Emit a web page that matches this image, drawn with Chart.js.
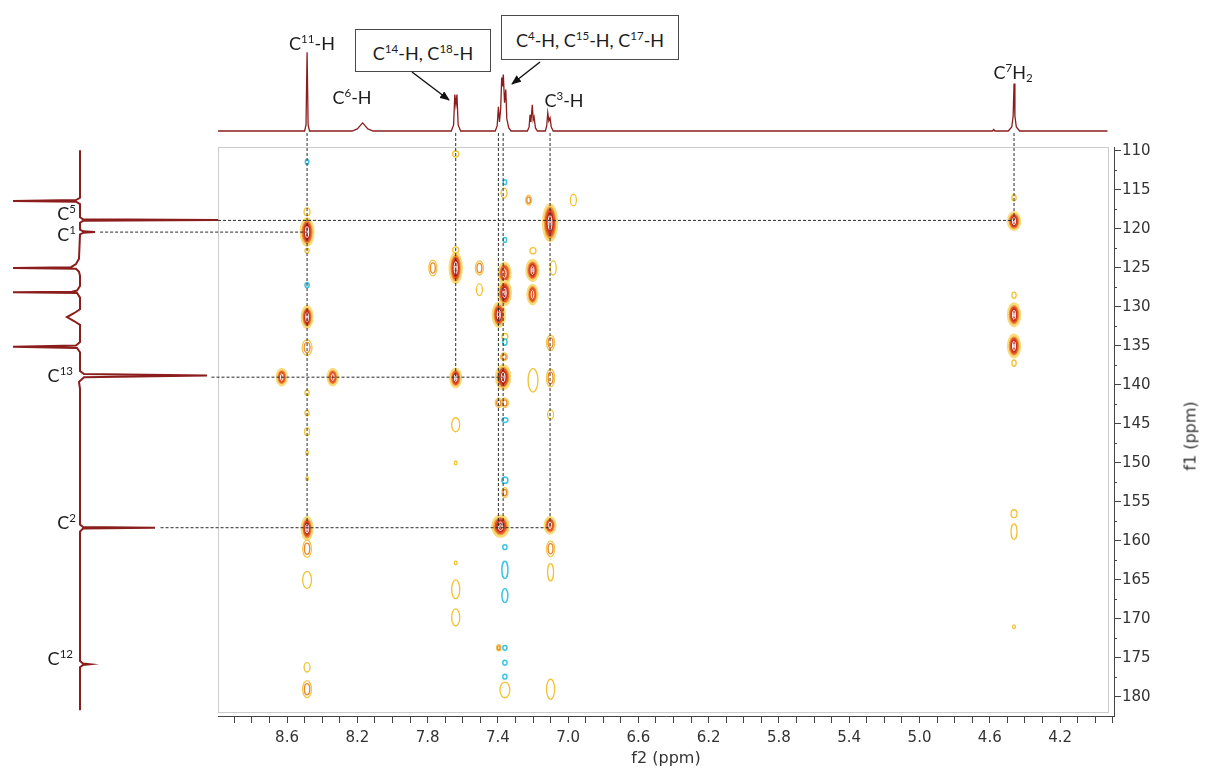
<!DOCTYPE html>
<html><head><meta charset="utf-8">
<script src="https://cdn.jsdelivr.net/npm/chart.js@4.4.1/dist/chart.umd.min.js"></script>
<style>
body{margin:0;background:#fff;width:1206px;height:769px;overflow:hidden;position:relative;}
canvas{position:absolute;left:0;top:0;}
.lbl{position:absolute;font-family:Lato,"Open Sans",sans-serif;font-size:18px;color:#1c1c1c;white-space:nowrap;transform:translate(-50%,-50%);line-height:1;}
.lft{position:absolute;font-family:Lato,"Open Sans",sans-serif;font-size:18px;color:#1c1c1c;white-space:nowrap;transform:translate(-100%,-50%);line-height:1;}
.box{position:absolute;border:1px solid #4a4a4a;background:#fff;display:flex;align-items:center;justify-content:center;font-family:Lato,"Open Sans",sans-serif;font-size:18px;color:#1c1c1c;white-space:nowrap;box-sizing:border-box;}
.box span.t{display:inline-block;line-height:1;padding-top:4px;}
sup{font-size:0.64em;vertical-align:0.62em;line-height:0;}
sub{font-size:0.64em;vertical-align:-0.25em;line-height:0;}
#f1{position:absolute;left:1190px;top:436px;transform:translate(-50%,-50%) rotate(-90deg);font-family:"DejaVu Sans",sans-serif;font-size:16px;color:#333;white-space:nowrap;}
svg{position:absolute;left:0;top:0;}
</style>
</head><body>
<canvas id="top" width="1206" height="147"></canvas>
<canvas id="left" width="220" height="769"></canvas>
<canvas id="main" width="1206" height="769"></canvas>

<div class="lbl" style="left:312px;top:43px">C<sup>11</sup>-H</div>
<div class="lbl" style="left:352px;top:97px">C<sup>6</sup>-H</div>
<div class="box" style="left:355px;top:29px;width:136px;height:43px"><span class="t">C<sup>14</sup>-H, C<sup>18</sup>-H</span></div>
<div class="box" style="left:501px;top:15px;width:178px;height:45px"><span class="t">C<sup>4</sup>-H, C<sup>15</sup>-H, C<sup>17</sup>-H</span></div>
<div class="lbl" style="left:564px;top:100px">C<sup>3</sup>-H</div>
<div class="lbl" style="left:1013px;top:72px">C<sup>7</sup>H<sub>2</sub></div>
<div class="lft" style="left:76px;top:213px">C<sup>5</sup></div>
<div class="lft" style="left:76px;top:234px">C<sup>1</sup></div>
<div class="lft" style="left:73px;top:375px">C<sup>13</sup></div>
<div class="lft" style="left:76px;top:522px">C<sup>2</sup></div>
<div class="lft" style="left:73px;top:658px">C<sup>12</sup></div>
<div id="f1">f1 (ppm)</div>
<svg width="1206" height="147">
<defs><marker id="ah" markerWidth="10" markerHeight="8" refX="9" refY="4" orient="auto" markerUnits="userSpaceOnUse"><polygon points="0,0 10,4 0,8" fill="#111"/></marker></defs>
<line x1="412" y1="72" x2="449" y2="100" stroke="#111" stroke-width="1.4" marker-end="url(#ah)"/>
<line x1="540" y1="62" x2="512" y2="84" stroke="#111" stroke-width="1.4" marker-end="url(#ah)"/>
</svg>

<script>
// ---- axis tick labels ----
const xTickLabels = ['8.6','8.2','7.8','7.4','7.0','6.6','6.2','5.8','5.4','5.0','4.6','4.2'];
const yTickLabels = ['110','115','120','125','130','135','140','145','150','155','160','165','170','175','180'];

// ---- 2D cross peaks (f2 ppm, f1 ppm, half width f2 ppm, half width f1 ppm, contour level; -1 = negative) ----
const peakShiftH = [8.486,8.486,8.486,7.640,7.640,7.362,7.362,7.395,7.370,7.385,7.203,7.203,7.103,4.462,4.462,4.462,8.630,8.340,7.103,
  8.486,8.486,8.486,7.770,7.505,7.225,7.100,7.100,7.395,7.360,7.365,7.100,7.360,7.395,
  8.486,8.486,8.486,8.486,8.486,8.486,8.486,8.486,8.486,7.640,7.640,7.640,7.640,7.640,7.640,7.640,7.505,7.365,7.360,7.360,7.200,7.200,7.085,7.100,7.100,7.100,6.970,4.462,4.462,4.462,4.462,4.462,4.462,
  8.486,8.486,7.360,7.360,7.360,7.360,7.360,7.360,7.360,7.360,7.360,7.360,7.360];
const peakShiftC = [120.4,131.3,158.4,125.0,139.1,125.7,128.2,131.0,139.0,158.1,125.3,128.4,119.2,119.0,131.0,135.0,139.0,139.0,158.0,
  135.2,161.0,179.0,125.0,125.0,116.3,134.6,139.1,142.3,142.3,136.4,161.0,153.8,173.7,
  117.8,122.8,141.0,143.6,146.0,148.7,152.0,165.0,176.2,110.4,122.7,145.1,150.0,162.8,166.2,169.8,127.8,115.4,133.8,179.1,122.8,139.4,125.0,143.8,164.0,179.0,116.3,116.0,128.5,137.2,156.5,158.8,171.0,
  111.4,127.2,114.0,121.4,134.5,144.5,152.2,160.8,163.7,167.0,173.7,175.6,177.4];
const peakWidthH = [0.036,0.030,0.030,0.034,0.030,0.034,0.036,0.034,0.040,0.046,0.034,0.028,0.040,0.034,0.034,0.034,0.028,0.028,0.030,
  0.028,0.025,0.025,0.023,0.023,0.017,0.023,0.023,0.020,0.020,0.020,0.023,0.017,0.012,
  0.017,0.012,0.012,0.012,0.014,0.008,0.008,0.025,0.017,0.017,0.017,0.023,0.008,0.008,0.023,0.023,0.017,0.017,0.017,0.028,0.017,0.028,0.017,0.017,0.017,0.023,0.017,0.012,0.012,0.012,0.017,0.017,0.008,
  0.010,0.012,0.010,0.010,0.012,0.017,0.017,0.012,0.017,0.017,0.012,0.012,0.012];
const peakWidthC = [1.7,1.35,1.4,1.9,1.15,1.3,1.5,1.5,1.5,1.3,1.3,1.2,2.3,1.1,1.4,1.4,1.0,1.0,1.0,
  1.0,1.1,1.1,1.0,0.9,0.65,1.0,1.15,0.6,0.6,0.5,1.0,0.65,0.4,
  0.5,0.3,0.35,0.35,0.5,0.25,0.25,1.1,0.6,0.4,0.4,0.9,0.25,0.25,1.2,1.1,0.75,0.65,0.4,1.0,0.4,1.5,0.9,0.6,1.1,1.3,0.75,0.4,0.4,0.4,0.5,1.0,0.25,
  0.3,0.3,0.3,0.3,0.4,0.3,0.4,0.3,1.1,0.9,0.3,0.3,0.3];
const peakLevel = [4,4,4,4,4,3,4,4,4,4,4,3,4,4,4,4,3,3,3,
  2,2,2,2,2,2,2,2,2,2,2,2,2,2,
  1,1,1,1,1,1,1,1,1,1,1,1,1,1,1,1,1,1,1,1,1,1,1,1,1,1,1,1,1,1,1,1,1,
  -1,-1,-1,-1,-1,-1,-1,-1,-1,-1,-1,-1,-1];

// ---- 1H projection (top) ----
const topSpecPPM = [8.993,8.500,8.492,8.486,8.480,8.472,8.23,8.20,8.18,8.17,8.16,8.14,8.11,7.665,7.652,7.645,7.639,7.633,7.626,7.612,
  7.415,7.404,7.397,7.391,7.384,7.378,7.374,7.369,7.362,7.355,7.349,7.338,7.325,
  7.232,7.222,7.217,7.212,7.204,7.199,7.194,7.186,7.175,7.130,7.122,7.116,7.110,7.103,7.096,7.085,
  4.585,4.578,4.571,4.495,4.475,4.467,4.462,4.457,4.449,4.43,3.93];
const topSpecInt = [0,0,6,78,6,0,0,2,6,8,6,2,0,0,6,36,26,36,6,0,
  0,5,24,9,22,53,44,56,28,41,12,3,0,
  0,4,16,9,26,11,14,3,0,0,5,18,10,13,4,0,
  0,1.5,0,0,4,15,47,15,4,0,0];

// ---- 13C projection (left) ----
const leftSpecPPM = [109.9,116.0,116.3,116.4,116.5,116.8,118.5,118.75,118.85,118.95,119.2,120.1,120.3,120.4,120.5,120.7,
  123.8,124.5,124.9,125.0,125.1,125.5,126.0,127.3,127.9,128.05,128.1,128.2,128.8,130.3,130.8,131.3,131.8,132.3,
  134.5,134.95,135.1,135.25,135.8,138.2,138.6,138.8,139.0,139.6,140.5,157.9,158.2,158.3,158.4,158.8,
  175.4,175.7,175.8,175.9,176.2,181.7];
const leftSpecInt = [0,0,-4,-67,-4,0,0,3,138,3,0,0,3,15,3,0,
  -1,-4,-9,-67,-4,-1,0,0,-3,-8,-67,-3,0,0,-6,-13,-6,0,
  0,-4,-67,-3,0,0,4,127,4,-1,0,0,3,75,3,0,
  0,3,10,3,0,0];

// ---- correlation guide lines ----
const guideTop = 107.7;
const vGuidePPM = [8.486,7.640,7.397,7.370,7.103,4.462];
const vGuideEnd = [158.4,139.1,158.2,158.2,158.1,118.9];
const hGuidePPM = [118.9,120.4,139.0,158.3];
const hGuideFrom = [8.993,9.664,9.030,9.320];
const hGuideTo = [4.462,8.486,7.370,7.103];

// ---- ranges ----
const f2Min = 3.893, f2Max = 8.993, f1Min = 109.49, f1Max = 182.44;

const common = {animation:false, responsive:false, devicePixelRatio:1, events:[],
  plugins:{legend:{display:false}, tooltip:{enabled:false}}};

// top spectrum
new Chart(document.getElementById('top'), {
  type:'scatter',
  data:{datasets:[{data: topSpecPPM.map((v,i)=>({x:v,y:topSpecInt[i]})), showLine:true, tension:0,
    borderColor:'#8b1d1d', borderWidth:1.3, pointRadius:0, clip:false}]},
  options:Object.assign({}, common, {
    layout:{padding:{left:218,right:92,top:30,bottom:16}},
    scales:{x:{type:'linear',reverse:true,min:f2Min,max:f2Max,display:false},
            y:{type:'linear',min:0,max:100,display:false}}
  })
});

// left spectrum
new Chart(document.getElementById('left'), {
  type:'scatter',
  data:{datasets:[{data: leftSpecPPM.map((v,i)=>({x:leftSpecInt[i],y:v})), showLine:true, tension:0,
    borderColor:'#8b1d1d', borderWidth:2, pointRadius:0, clip:false}]},
  options:Object.assign({}, common, {
    layout:{padding:{left:0,right:0,top:147,bottom:53}},
    scales:{x:{type:'linear',min:-80,max:140,display:false},
            y:{type:'linear',reverse:true,min:f1Min,max:f1Max,display:false}}
  })
});

function ell(ctx,x,y,rx,ry){ctx.beginPath();ctx.ellipse(x,y,Math.max(rx,0.6),Math.max(ry,0.6),0,0,Math.PI*2);}
function drawContour(ctx,x,y,rx,ry,L){
  ctx.save();
  if(L<0){ell(ctx,x,y,rx,ry);ctx.strokeStyle='#3cc4e2';ctx.lineWidth=1.5;ctx.stroke();}
  else if(L===1){ell(ctx,x,y,rx,ry);ctx.strokeStyle='#f1c232';ctx.lineWidth=1.3;ctx.stroke();}
  else if(L===2){ell(ctx,x,y,rx,ry);ctx.strokeStyle='#f4c64a';ctx.lineWidth=1.3;ctx.stroke();
    ell(ctx,x,y,rx*0.6,ry*0.65);ctx.strokeStyle='#e9852c';ctx.lineWidth=1.3;ctx.stroke();}
  else{
    ell(ctx,x,y,rx+1.2,ry+1.5);ctx.fillStyle='#f8dc7c';ctx.fill();
    ell(ctx,x,y,rx*0.88,ry*0.9);ctx.fillStyle='#f29a3a';ctx.fill();
    ell(ctx,x,y,rx*0.72,ry*0.78);ctx.fillStyle='#e2542a';ctx.fill();
    if(L===4){ell(ctx,x,y,rx*0.52,ry*0.62);ctx.fillStyle='#c52e1f';ctx.fill();}
    ell(ctx,x,y,rx*0.26,ry*0.42);ctx.strokeStyle='#ffffff';ctx.lineWidth=1;ctx.stroke();
    if(L===4){ell(ctx,x,y,rx*0.1,ry*0.18);ctx.strokeStyle='#ffffff';ctx.lineWidth=0.8;ctx.stroke();}
  }
  ctx.restore();
}

const contourPlugin = {
  id:'contours',
  beforeDatasetsDraw(chart){
    const ctx = chart.ctx, xs = chart.scales.x, ys = chart.scales.y, a = chart.chartArea;
    ctx.save();
    ctx.strokeStyle='#cccccc'; ctx.lineWidth=1;
    ctx.strokeRect(a.left+0.5, a.top+0.5, a.right-a.left-6, a.bottom-a.top-4);
    ctx.restore();
    const meta = chart.getDatasetMeta(0);
    meta.data.forEach((el,i)=>{
      const rx = Math.abs(xs.getPixelForValue(peakShiftH[i]+peakWidthH[i]) - el.x);
      const ry = Math.abs(ys.getPixelForValue(peakShiftC[i]+peakWidthC[i]) - el.y);
      drawContour(ctx, el.x, el.y, rx, ry, peakLevel[i]);
    });
  },
  afterDraw(chart){
    // short minor ticks on the f1 axis (between labelled ticks)
    const ys = chart.scales.y, ctx = chart.ctx, x0 = ys.left;
    ctx.save(); ctx.strokeStyle='#444'; ctx.lineWidth=1;
    ys.ticks.forEach(t=>{
      if (t.label === '') {
        const py = Math.round(ys.getPixelForValue(t.value)) + 0.5;
        ctx.beginPath(); ctx.moveTo(x0, py); ctx.lineTo(x0+3, py); ctx.stroke();
      }
    });
    ctx.restore();
  }
};

const guideStyle = {showLine:true, tension:0, borderColor:'#2a2a2a', borderWidth:1, borderDash:[3,2], pointRadius:0, clip:false};
const datasets = [{data: peakShiftH.map((v,i)=>({x:v,y:peakShiftC[i]})), pointRadius:0, showLine:false}];
vGuidePPM.forEach((v,i)=>datasets.push(Object.assign({data:[{x:v,y:guideTop},{x:v,y:vGuideEnd[i]}]}, guideStyle)));
hGuidePPM.forEach((v,i)=>datasets.push(Object.assign({data:[{x:hGuideFrom[i],y:v},{x:hGuideTo[i],y:v}]}, guideStyle)));

const tickFont = {family:'"DejaVu Sans", Verdana, sans-serif', size:15};
new Chart(document.getElementById('main'), {
  type:'scatter',
  data:{datasets},
  plugins:[contourPlugin],
  options:Object.assign({}, common, {
    layout:{padding:{left:218,top:147,right:0,bottom:0}},
    scales:{
      x:{type:'linear',reverse:true,min:f2Min,max:f2Max,position:'bottom',
        border:{display:true,color:'#444',width:1},
        grid:{display:true,drawOnChartArea:false,drawTicks:true,tickLength:7,tickColor:'#444',tickWidth:1},
        afterBuildTicks:(s)=>{const t=[];for(let k=39;k<=89;k++)t.push({value:k/10});s.ticks=t;},
        afterFit:(s)=>{s.height=53;},
        ticks:{autoSkip:false,maxRotation:0,minRotation:0,padding:6,color:'#333',font:tickFont,
          callback:(v)=>{const s=Number(v).toFixed(1);return xTickLabels.includes(s)?s:'';}},
        title:{display:true,text:'f2 (ppm)',color:'#333',font:{family:'"DejaVu Sans", Verdana, sans-serif',size:16},padding:{top:0,bottom:1}}
      },
      y:{type:'linear',reverse:true,min:f1Min,max:f1Max,position:'right',
        border:{display:true,color:'#444',width:1},
        grid:{display:true,drawOnChartArea:false,drawTicks:true,tickLength:7,tickWidth:1,
          tickColor:(c)=> (c.tick && yTickLabels.includes(String(Math.round(c.tick.value*10)/10))) ? '#444' : 'rgba(0,0,0,0)'},
        afterBuildTicks:(s)=>{const t=[];for(let k=44;k<=72;k++)t.push({value:k*2.5});s.ticks=t;},
        afterFit:(s)=>{s.width=92;},
        ticks:{autoSkip:false,padding:1,color:'#333',font:tickFont,
          callback:(v)=>{const s=String(Math.round(v*10)/10);return yTickLabels.includes(s)?s:'';}}
      }
    }
  })
});
</script>
</body></html>
